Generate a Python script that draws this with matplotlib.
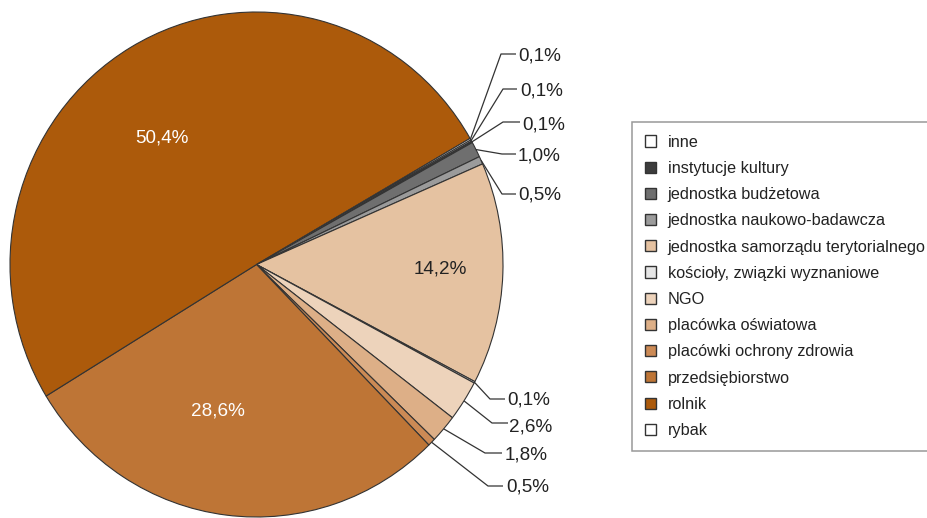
import matplotlib
matplotlib.use("Agg")
import matplotlib.pyplot as plt
import numpy as np

plt.rcParams['font.family'] = ['Liberation Sans', 'DejaVu Sans']

# ---- data ----
categories = ["inne", "instytucje kultury", "jednostka budżetowa",
              "jednostka naukowo-badawcza", "jednostka samorządu terytorialnego",
              "kościoły, związki wyznaniowe", "NGO", "placówka oświatowa",
              "placówki ochrony zdrowia", "przedsiębiorstwo", "rolnik", "rybak"]
values = [0.1, 0.1, 1.0, 0.5, 14.2, 0.1, 2.6, 1.8, 0.5, 28.6, 50.4, 0.1]
colors = ["#FFFFFF", "#3C3C3C", "#6F6F6F", "#9B9B9B", "#E5C2A1", "#E6E6E6",
          "#EDD3BB", "#DDAF87", "#CC8A55", "#BE7536", "#AC5A0B", "#FFFFFF"]

def fmt(v):
    return f"{v:.1f}".replace('.', ',') + '%'

# ---- layout (pixel geometry of the ellipse-shaped pie) ----
W, H = 928, 518
CX, CY, RX, RY = 256.5, 264.5, 246.5, 252.5

def px(x, y):
    return ((x - CX) / RX, (CY - y) / RY)

fig = plt.figure(figsize=(W / 100, H / 100), dpi=100)
ax = fig.add_axes([0, 0, 1, 1])

wedges, _ = ax.pie(values, colors=colors, startangle=29.6, counterclock=False,
                   wedgeprops=dict(edgecolor="#333333", linewidth=0.8))
ax.set_aspect('auto')
x0, y1 = px(0, 0)
x1, y0 = px(W, H)
ax.set_xlim(x0, x1)
ax.set_ylim(y0, y1)
ax.axis('off')

# outer labels with leader lines: (slice index, elbow px, line end x, text x, text y)
outer = [
    (11, (501, 54), 516, 518, 55.5),
    (0, (503, 89), 517, 520, 90.5),
    (1, (503, 122), 520, 522, 124.5),
    (2, (502, 154), 516, 518, 155.5),
    (3, (502, 194), 516, 518, 195.5),
    (5, (490, 399), 505, 507, 400),
    (6, (492, 423), 508, 509, 426.5),
    (7, (485, 453), 502, 505, 455.5),
    (8, (488, 486), 503, 506, 487.5),
]
for idx, (ex, ey), endx, tx, ty in outer:
    w = wedges[idx]
    th = np.deg2rad((w.theta1 + w.theta2) / 2)
    ax_, ay_ = np.cos(th), np.sin(th)
    exd, eyd = px(ex, ey)
    endd, _ = px(endx, ey)
    ax.plot([ax_, exd, endd], [ay_, eyd, eyd], color="#333333", lw=0.9,
            solid_capstyle='butt', clip_on=False)
    tdx, tdy = px(tx, ty)
    ax.text(tdx, tdy, fmt(values[idx]), ha='left', va='center',
            fontsize=13.6, color="#222222")

# inner labels
inner = [(10, (161.5, 137.5), "white"), (9, (218, 410.5), "white"),
         (4, (440.5, 269.5), "#222222")]
for idx, (lx, ly), c in inner:
    dx, dy = px(lx, ly)
    ax.text(dx, dy, fmt(values[idx]), ha='center', va='center',
            fontsize=13.6, color=c)

leg = ax.legend(wedges, categories, loc='upper left',
                bbox_to_anchor=(632 / W, 1 - 122 / H), bbox_transform=fig.transFigure,
                borderaxespad=0, frameon=True, fancybox=False, edgecolor="#808080",
                fontsize=11.7, handlelength=0.68, handleheight=0.68,
                handletextpad=0.74, labelspacing=0.69, borderpad=0.78)
leg.get_frame().set_linewidth(1.1)
for h in leg.legend_handles:
    h.set_edgecolor("#333333")
    h.set_linewidth(1.0)
for t in leg.get_texts():
    t.set_color("#222222")

fig.savefig("out.png", dpi=100)
